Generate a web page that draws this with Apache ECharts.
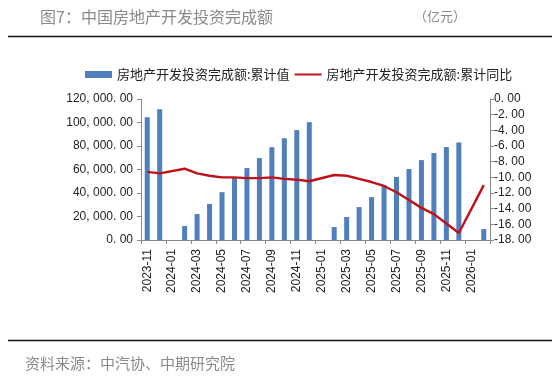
<!DOCTYPE html>
<html>
<head>
<meta charset="utf-8">
<script src="https://cdn.jsdelivr.net/npm/echarts@6/dist/echarts.min.js"></script>
<style>html,body{margin:0;padding:0;background:#fff;}#c{width:552px;height:386px;}</style>
</head>
<body>
<div id="c"></div>
<script>
const categories = ['2023-11','2023-12','2024-01','2024-02','2024-03','2024-04','2024-05','2024-06','2024-07','2024-08','2024-09','2024-10','2024-11','2024-12','2025-01','2025-02','2025-03','2025-04','2025-05','2025-06','2025-07','2025-08','2025-09','2025-10','2025-11','2025-12','2026-01','2026-02'];
const investCum = [104500,111200,null,11900,22100,30700,40700,53000,61200,69700,79000,86600,93500,100300,null,11000,19600,28000,36500,46700,53700,60400,68000,74000,79100,83000,null,9300];
const investYoY = [-9.3,-9.5,null,-8.9,-9.5,-9.8,-10.0,-10.0,-10.1,-10.1,-10.0,-10.2,-10.3,-10.5,null,-9.7,-9.8,-10.2,-10.6,-11.1,-11.9,-12.9,-13.9,-14.7,-15.9,-17.1,null,-11.0];
const seriesNames = ['房地产开发投资完成额:累计值','房地产开发投资完成额:累计同比'];
const titleText = '图7：中国房地产开发投资完成额';
const unitText = '（亿元）';
const sourceText = '资料来源：中汽协、中期研究院';

const chart = echarts.init(document.getElementById('c'), null, {renderer:'canvas'});
const fmtLeft = v => v.toLocaleString('en-US',{minimumFractionDigits:2,maximumFractionDigits:2}).replace(/,/g,', ').replace('.', '. ');
const fmtRight = v => v.toFixed(2).replace('.', '. ');
const axisFont = {color:'#222', fontSize:12, fontFamily:'Liberation Sans, Arial, sans-serif'};
chart.setOption({
  animation:false,
  backgroundColor:'#fff',
  grid:{left:141, right:62, top:99, bottom:146, containLabel:false},
  legend:{
    top:63, left:80, itemGap:5, itemWidth:27, itemHeight:7,
    textStyle:{fontSize:13, color:'#222', fontFamily:'Noto Sans CJK SC, sans-serif'},
    data:[
      {name:seriesNames[0], icon:'rect'},
      {name:seriesNames[1], icon:'path://M0,0H30V2.2H0Z'}
    ]
  },
  xAxis:{
    type:'category', data:categories, boundaryGap:true,
    axisLine:{lineStyle:{color:'#888'}},
    axisTick:{show:true, interval:1, length:4, lineStyle:{color:'#888'}},
    axisLabel:Object.assign({rotate:90, interval:1, margin:9}, axisFont)
  },
  yAxis:[
    {type:'value', min:0, max:120000, interval:20000, position:'left',
     axisLine:{show:true, lineStyle:{color:'#888'}},
     axisTick:{show:true, length:4, lineStyle:{color:'#888'}},
     splitLine:{show:false},
     axisLabel:Object.assign({formatter:fmtLeft, margin:8}, axisFont)},
    {type:'value', min:-18, max:0, interval:2, position:'right',
     axisLine:{show:true, lineStyle:{color:'#888'}},
     axisTick:{show:true, length:4, lineStyle:{color:'#888'}},
     splitLine:{show:false},
     axisLabel:Object.assign({formatter:fmtRight, margin:4}, axisFont)}
  ],
  series:[
    {name:seriesNames[0], type:'bar', data:investCum, yAxisIndex:0, barWidth:5, itemStyle:{color:'#4f7fbd'}},
    {name:seriesNames[1], type:'line', data:investYoY, yAxisIndex:1, connectNulls:true, showSymbol:false, symbol:'none',
     lineStyle:{color:'#c0101a', width:2.4}, itemStyle:{color:'#c0101a'}}
  ],
  graphic:[
    {type:'text', left:40, top:9, style:{text:titleText, fontSize:16, fill:'#8a8a8a', fontFamily:'Noto Sans CJK SC, sans-serif'}},
    {type:'text', left:414, top:10, style:{text:unitText, fontSize:13, fill:'#8a8a8a', fontFamily:'Noto Sans CJK SC, sans-serif'}},
    {type:'line', shape:{x1:8, y1:36.5, x2:552, y2:36.5}, style:{stroke:'#111', lineWidth:1.5}},
    {type:'line', shape:{x1:8, y1:340.5, x2:552, y2:340.5}, style:{stroke:'#111', lineWidth:1.5}},
    {type:'text', left:25, top:356, style:{text:sourceText, fontSize:15, fill:'#8a8a8a', fontFamily:'Noto Sans CJK SC, sans-serif'}}
  ]
});
</script>
</body>
</html>
